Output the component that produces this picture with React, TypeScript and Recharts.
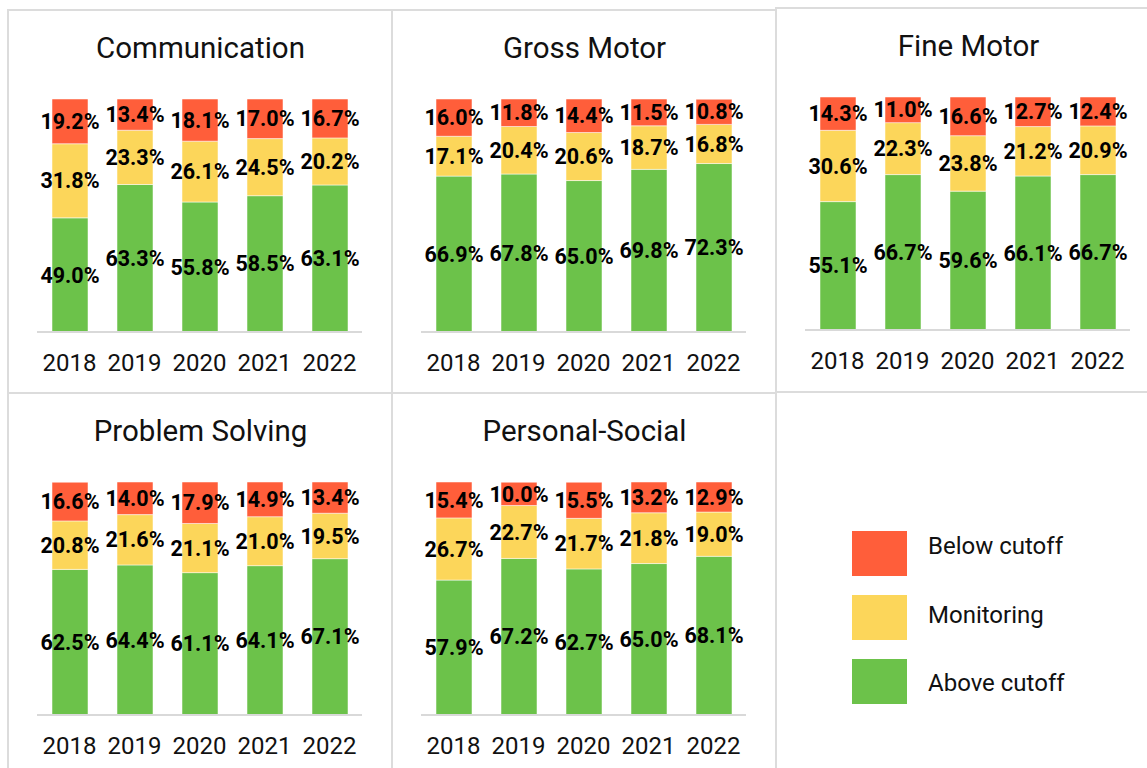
import React from "react";
import { BarChart, Bar, XAxis, YAxis, LabelList } from "recharts";

const years = ["2018", "2019", "2020", "2021", "2022"];

const commBelow = [19.2, 13.4, 18.1, 17.0, 16.7];
const commMonitor = [31.8, 23.3, 26.1, 24.5, 20.2];
const commAbove = [49.0, 63.3, 55.8, 58.5, 63.1];

const grossBelow = [16.0, 11.8, 14.4, 11.5, 10.8];
const grossMonitor = [17.1, 20.4, 20.6, 18.7, 16.8];
const grossAbove = [66.9, 67.8, 65.0, 69.8, 72.3];

const fineBelow = [14.3, 11.0, 16.6, 12.7, 12.4];
const fineMonitor = [30.6, 22.3, 23.8, 21.2, 20.9];
const fineAbove = [55.1, 66.7, 59.6, 66.1, 66.7];

const probBelow = [16.6, 14.0, 17.9, 14.9, 13.4];
const probMonitor = [20.8, 21.6, 21.1, 21.0, 19.5];
const probAbove = [62.5, 64.4, 61.1, 64.1, 67.1];

const persBelow = [15.4, 10.0, 15.5, 13.2, 12.9];
const persMonitor = [26.7, 22.7, 21.7, 21.8, 19.0];
const persAbove = [57.9, 67.2, 62.7, 65.0, 68.1];

const seriesNames = ["Below cutoff", "Monitoring", "Above cutoff"];
const colors = { below: "#FF5E3A", monitor: "#FCD65A", above: "#6CC24A" };

const font = "Roboto, 'Noto Sans', sans-serif";
const border = "2px solid #dcdcdc";

const buildRows = (below: number[], monitor: number[], above: number[]) =>
  years.map((year, i) => ({ year, above: above[i], monitor: monitor[i], below: below[i] }));

const fmt = (v: any) => `${Number(v).toFixed(1)}%`;
const labelStyle = { fill: "#000", fontSize: 21.5, fontWeight: 700, fontFamily: font };

interface PanelProps {
  title: string;
  left: number;
  top: number;
  below: number[];
  monitor: number[];
  above: number[];
}

const Panel: React.FC<PanelProps> = ({ title, left, top, below, monitor, above }) => {
  const data = buildRows(below, monitor, above);
  return (
    <div
      style={{
        position: "absolute", left, top, width: 385, height: 384,
        boxSizing: "border-box", borderLeft: border, borderTop: border,
      }}
    >
      <div
        style={{
          position: "absolute", left: 0, top: 23, width: 383, textAlign: "center",
          fontFamily: font, fontSize: 29.5, lineHeight: "29.5px", color: "#111",
        }}
      >
        {title}
      </div>
      <div style={{ position: "absolute", left: 0, top: 0 }}>
        <BarChart width={383} height={381} data={data} margin={{ top: 88, right: 30, left: 28, bottom: 30 }}>
          <XAxis
            dataKey="year"
            interval={0}
            tickLine={false}
            tickMargin={16}
            axisLine={{ stroke: "#d9d9d9", strokeWidth: 2 }}
            tick={{ fill: "#111", fontSize: 24, fontFamily: font }}
          />
          <YAxis hide domain={[0, 100]} allowDataOverflow />
          <Bar dataKey="above" stackId="s" fill={colors.above} barSize={36} stroke="rgba(255,255,255,0.5)" isAnimationActive={false}>
            <LabelList dataKey="above" position="center" formatter={fmt} style={labelStyle} />
          </Bar>
          <Bar dataKey="monitor" stackId="s" fill={colors.monitor} barSize={36} stroke="rgba(255,255,255,0.5)" isAnimationActive={false}>
            <LabelList dataKey="monitor" position="center" formatter={fmt} style={labelStyle} />
          </Bar>
          <Bar dataKey="below" stackId="s" fill={colors.below} barSize={36} stroke="rgba(255,255,255,0.5)" isAnimationActive={false}>
            <LabelList dataKey="below" position="center" formatter={fmt} style={labelStyle} />
          </Bar>
        </BarChart>
      </div>
    </div>
  );
};

const legendColors = [colors.below, colors.monitor, colors.above];

export default function App() {
  return (
    <div style={{ position: "absolute", left: 0, top: 0, width: 1147, height: 768, overflow: "hidden", background: "#fff" }}>
      <Panel title="Communication" left={7} top={9} below={commBelow} monitor={commMonitor} above={commAbove} />
      <Panel title="Gross Motor" left={391} top={9} below={grossBelow} monitor={grossMonitor} above={grossAbove} />
      <Panel title="Fine Motor" left={775} top={7} below={fineBelow} monitor={fineMonitor} above={fineAbove} />
      <Panel title="Problem Solving" left={7} top={392} below={probBelow} monitor={probMonitor} above={probAbove} />
      <Panel title="Personal-Social" left={391} top={392} below={persBelow} monitor={persMonitor} above={persAbove} />

      {/* legend panel */}
      <div
        style={{
          position: "absolute", left: 775, top: 391, width: 385, height: 384,
          boxSizing: "border-box", borderLeft: border, borderTop: border,
        }}
      >
        {seriesNames.map((name, i) => (
          <React.Fragment key={name}>
            <div
              style={{
                position: "absolute", left: 75, top: 138 + i * 64, width: 55, height: 45,
                background: legendColors[i],
              }}
            />
            <div
              style={{
                position: "absolute", left: 151, top: 141 + i * 68.5, whiteSpace: "nowrap",
                fontFamily: font, fontSize: 24, lineHeight: "24px", color: "#111",
              }}
            >
              {name}
            </div>
          </React.Fragment>
        ))}
      </div>
    </div>
  );
}
